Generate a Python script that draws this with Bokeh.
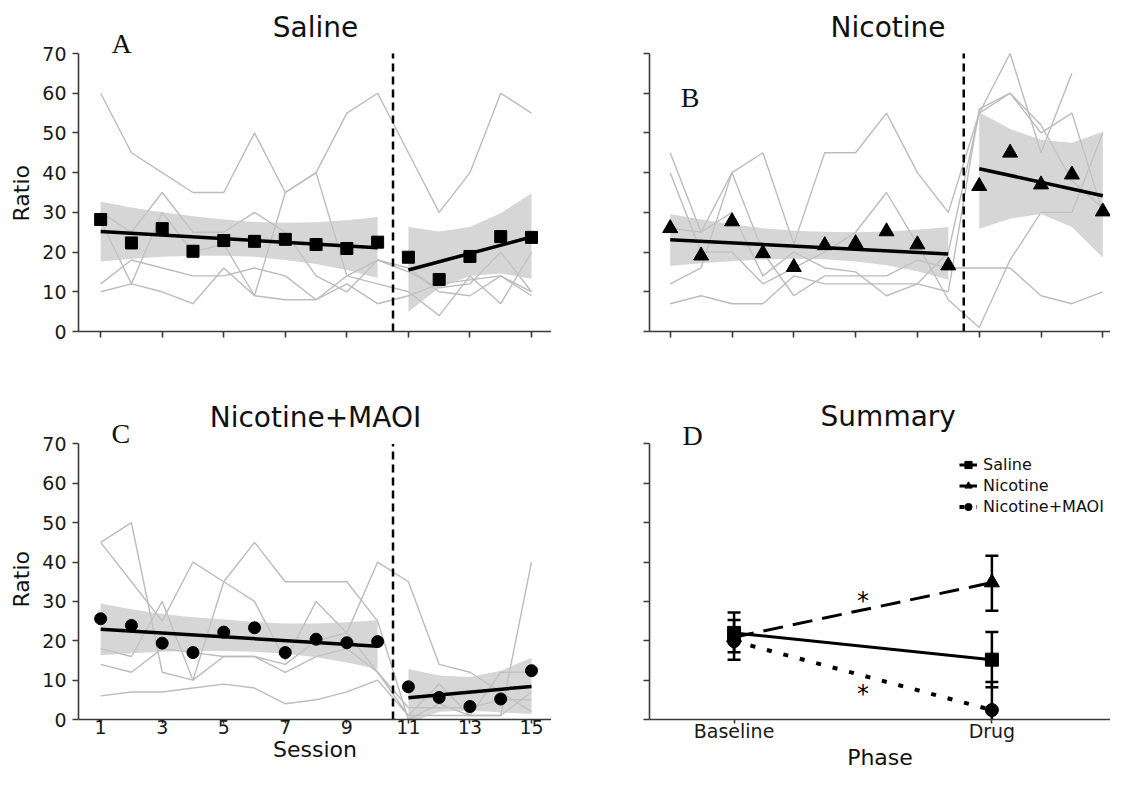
import numpy as np
from bokeh.plotting import figure
from bokeh.models import (Range1d, Label, Whisker, TeeHead, ColumnDataSource,
                          FixedTicker, Legend, LegendItem, Title)
from bokeh.layouts import column, row
from bokeh.embed import file_html
from bokeh.resources import INLINE
from bokeh.core.properties import value

# ---------------- data ----------------
sessions = [1, 2, 3, 4, 5, 6, 7, 8, 9, 10, 11, 12, 13, 14, 15]
base_sessions = sessions[:10]
drug_sessions = sessions[10:]
session_ticks = [1, 3, 5, 7, 9, 11, 13, 15]
ratio_ticks = [0, 10, 20, 30, 40, 50, 60, 70]
phase_split = 10.5

# Panel A - Saline: individual subjects
saline_s1 = [60, 45, 40, 35, 35, 50, 35, 40, 55, 60, 45, 30, 40, 60, 55]
saline_s2 = [30, 25, 35, 25, 25, 30, 25, 14, 10, 18, 15, 11, 12, 20, 10]
saline_s3 = [28, 12, 30, 20, 22, 9, 35, 40, 14, 12, 10, 4, 14, 7, 20]
saline_s4 = [12, 18, 16, 14, 14, 16, 14, 8, 12, 7, 9, 12, 13, 14, 9]
saline_s5 = [10, 12, 10, 7, 16, 9, 8, 8, 14, 18, 16, 10, 9, 14, 10]
saline_means = [28.2, 22.3, 25.9, 20.2, 22.9, 22.7, 23.2, 21.9, 20.9, 22.5,
                18.7, 13.1, 18.9, 23.9, 23.7]
saline_fit_base = [25.2, 21.1]
saline_fit_drug = [15.5, 23.8]
saline_band_lo_base = [17.6, 18.3, 18.8, 19.1, 19.1, 18.8, 18.0, 17.0, 15.5, 13.5]
saline_band_hi_base = [32.7, 31.2, 30.0, 29.0, 28.2, 27.6, 27.4, 27.5, 28.0, 28.8]
saline_band_lo_drug = [4.9, 11.0, 14.0, 14.6, 13.3]
saline_band_hi_drug = [26.3, 25.2, 26.3, 29.8, 34.8]

# Panel B - Nicotine
nic_s1 = [45, 25, 40, 45, 22, 45, 45, 55, 40, 30, 55, 70, 45, 65, np.nan]
nic_s2 = [40, 20, 20, 12, 16, 20, 25, 35, 22, 8, 1, 18, 30, 30, 50]
nic_s3 = [12, 16, 40, 20, 9, 14, 14, 14, 18, 16, 16, 16, 9, 7, 10]
nic_s4 = [7, 9, 7, 7, 14, 12, 12, 12, 12, 20, 55, 60, 50, 55, 30]
nic_s5 = [26, 25, 30, 14, 20, 16, 15, 9, 12, 10, 56, 60, 52, 38, 31]
nic_means = [26.0, 19.1, 27.7, 19.7, 16.2, 21.7, 22.2, 25.2, 21.9, 16.6,
             36.6, 45.0, 37.0, 39.5, 30.2]
nic_fit_base = [23.1, 19.5]
nic_fit_drug = [41.0, 34.2]
nic_band_lo_base = [16.5, 17.2, 17.7, 18.1, 18.3, 18.2, 17.6, 16.7, 15.2, 13.0]
nic_band_hi_base = [29.6, 28.2, 27.0, 26.0, 25.4, 25.1, 25.0, 25.2, 25.6, 26.3]
nic_band_lo_drug = [25.9, 28.4, 29.6, 26.3, 18.6]
nic_band_hi_drug = [55.2, 51.0, 48.3, 47.5, 50.3]

# Panel C - Nicotine+MAOI
maoi_s1 = [45, 50, 12, 10, 35, 30, 15, 30, 22, 12, 1, 9, 1, 12, 12]
maoi_s2 = [45, 35, 25, 40, 35, 45, 35, 35, 35, 25, 0, 4, 1, 1, 40]
maoi_s3 = [18, 16, 30, 10, 16, 16, 14, 20, 22, 40, 35, 14, 12, 7, 2]
maoi_s4 = [14, 12, 18, 17, 16, 16, 12, 16, 18, 12, 3, 3, 3, 5, 5]
maoi_s5 = [6, 7, 7, 8, 9, 8, 4, 5, 7, 10, 1, 1, 1, 1, 7]
maoi_means = [25.6, 23.9, 19.4, 17.0, 22.2, 23.3, 17.0, 20.4, 19.5, 19.8,
              8.3, 5.6, 3.3, 5.2, 12.4]
maoi_fit_base = [22.9, 18.6]
maoi_fit_drug = [5.5, 8.4]
maoi_band_lo_base = [16.3, 16.8, 17.2, 17.4, 17.4, 17.2, 16.7, 15.8, 14.5, 12.8]
maoi_band_hi_base = [29.5, 28.0, 26.8, 26.0, 25.4, 24.8, 24.4, 24.4, 24.7, 25.2]
maoi_band_lo_drug = [-1.0, 2.0, 2.3, 1.8, 1.4]
maoi_band_hi_drug = [12.8, 11.2, 10.8, 12.4, 15.7]

# Panel D - Summary
phase_x = [0, 1]
phase_labels = ["Baseline", "Drug"]
sum_saline = [22.0, 15.2]
sum_saline_lo = [15.2, 8.2]
sum_saline_hi = [27.2, 22.2]
sum_nic = [20.9, 34.8]
sum_nic_lo = [17.1, 27.6]
sum_nic_hi = [25.3, 41.6]
sum_maoi = [19.9, 2.4]
sum_maoi_lo = [17.5, 0.0]
sum_maoi_hi = [22.5, 9.5]
star_x = [0.5, 0.5]
star_y = [30.2, 6.5]
star_text = ["*", "*"]

# ---------------- styling ----------------
FONT = "DejaVu Sans"
SERIF = "Liberation Serif"
TXT = "#111111"
AXC = "#3a3a3a"
PX_PER_UNIT = 278 / 70.0   # vertical pixels per ratio unit (0..70 spans 278 px)


def style_axes(p, show_x, show_y):
    for ax in (p.xaxis[0], p.yaxis[0]):
        ax.axis_line_color = AXC
        ax.axis_line_width = 1.6
        ax.major_tick_line_color = AXC
        ax.major_tick_line_width = 1.6
        ax.major_tick_in = 0
        ax.major_tick_out = 6
        ax.minor_tick_line_color = None
        ax.major_label_text_font = FONT
        ax.major_label_text_font_size = "19px"
        ax.major_label_text_color = "#1a1a1a"
    p.yaxis[0].ticker = FixedTicker(ticks=ratio_ticks)
    p.yaxis[0].bounds = (ratio_ticks[0], ratio_ticks[-1])
    p.yaxis[0].major_label_standoff = 6
    if not show_x:
        p.xaxis[0].major_label_text_alpha = 0
    else:
        # short outward ticks drawn without reserving extra room below the frame
        p.xaxis[0].major_tick_out = 0
        p.xaxis[0].major_tick_in = -4
        p.xaxis[0].major_label_standoff = 0
    if not show_y:
        p.yaxis[0].major_label_text_alpha = 0


def add_label(p, x, y, text, size, font=FONT, align="center", baseline="middle"):
    p.add_layout(Label(x=x, y=y, text=text, text_font=font, text_font_size=size,
                       text_align=align, text_baseline=baseline, text_color=TXT))


def make_fig(width, height, left, bottom, xr):
    frame_h = height - bottom
    p = figure(width=width, height=height, x_range=Range1d(*xr),
               y_range=Range1d(0, frame_h / PX_PER_UNIT),
               output_backend="svg", toolbar_location=None,
               min_border_left=left, min_border_right=0,
               min_border_top=0, min_border_bottom=bottom)
    p.outline_line_color = None
    p.xgrid.visible = False
    p.ygrid.visible = False
    p.background_fill_color = "white"
    p.border_fill_color = "white"
    return p


def add_ratio_title(p, offset):
    p.add_layout(Title(text="Ratio", align="left", offset=offset, standoff=12,
                       text_font=FONT, text_font_size="22px", text_font_style="normal",
                       text_color=TXT), "left")


def style_xlabel(ax, text):
    ax.axis_label = text
    ax.axis_label_standoff = 0
    ax.axis_label_text_font = FONT
    ax.axis_label_text_font_size = "22px"
    ax.axis_label_text_font_style = "normal"
    ax.axis_label_text_color = TXT


def session_panel(p, subjects, means, fit_b, fit_d, blo_b, bhi_b, blo_d, bhi_d, marker, msize):
    for subj in subjects:
        p.line(sessions, np.array(subj, dtype=float), line_color="#bcbcbc", line_width=1.4)
    p.varea(x=base_sessions, y1=blo_b, y2=bhi_b, fill_color="#c4c4c4", fill_alpha=0.7)
    p.varea(x=drug_sessions, y1=blo_d, y2=bhi_d, fill_color="#c4c4c4", fill_alpha=0.7)
    p.segment(x0=[phase_split], y0=[ratio_ticks[0]], x1=[phase_split], y1=[ratio_ticks[-1]],
              line_color="black", line_width=2.5, line_dash="8 5")
    p.line([base_sessions[0], base_sessions[-1]], fit_b, line_color="black", line_width=3.5)
    p.line([drug_sessions[0], drug_sessions[-1]], fit_d, line_color="black", line_width=3.5)
    p.scatter(sessions, means, marker=marker, size=msize, fill_color="black", line_color="black")
    p.xaxis[0].ticker = FixedTicker(ticks=session_ticks)


# Panel A
pA = make_fig(551, 383, 71, 52, (0.28, 15.65))
session_panel(pA, [saline_s1, saline_s2, saline_s3, saline_s4, saline_s5], saline_means,
              saline_fit_base, saline_fit_drug, saline_band_lo_base, saline_band_hi_base,
              saline_band_lo_drug, saline_band_hi_drug, "square", 12)
style_axes(pA, False, True)
add_label(pA, 7.98, 76.6, "Saline", "28px")
add_label(pA, 1.35, 72.45, "A", "28px", font=SERIF, align="left", baseline="alphabetic")
add_ratio_title(pA, 110)

# Panel B
pB = make_fig(559, 383, 98, 52, (0.33, 15.249))
session_panel(pB, [nic_s1, nic_s2, nic_s3, nic_s4, nic_s5], nic_means,
              nic_fit_base, nic_fit_drug, nic_band_lo_base, nic_band_hi_base,
              nic_band_lo_drug, nic_band_hi_drug, "triangle", 15)
style_axes(pB, False, False)
add_label(pB, 8.05, 76.6, "Nicotine", "28px")
add_label(pB, 1.34, 59.0, "B", "28px", font=SERIF, align="left", baseline="alphabetic")

# Panel C
pC = make_fig(551, 389, 71, 50, (0.28, 15.65))
session_panel(pC, [maoi_s1, maoi_s2, maoi_s3, maoi_s4, maoi_s5], maoi_means,
              maoi_fit_base, maoi_fit_drug, maoi_band_lo_base, maoi_band_hi_base,
              maoi_band_lo_drug, maoi_band_hi_drug, "circle", 12)
style_axes(pC, True, True)
add_label(pC, 7.98, 76.8, "Nicotine+MAOI", "28px")
add_label(pC, 1.35, 72.6, "C", "28px", font=SERIF, align="left", baseline="alphabetic")
add_ratio_title(pC, 112)
style_xlabel(pC.xaxis[0], "Session")

# Panel D
pD = make_fig(559, 389, 98, 50, (-0.328, 1.460))
ls = pD.line(phase_x, sum_saline, line_color="black", line_width=3)
ln = pD.line(phase_x, sum_nic, line_color="black", line_width=3, line_dash="20 10")
lm = pD.line(phase_x, sum_maoi, line_color="black", line_width=4, line_dash="5 12")

for mid, lo, hi, has_low in ((sum_saline, sum_saline_lo, sum_saline_hi, True),
                             (sum_nic, sum_nic_lo, sum_nic_hi, True),
                             (sum_maoi, sum_maoi_lo, sum_maoi_hi, False)):
    src = ColumnDataSource(dict(x=phase_x, lo=lo, hi=hi))
    w = Whisker(source=src, base="x", lower="lo", upper="hi", dimension="height",
                line_color="black", line_width=2.5,
                upper_head=TeeHead(size=13, line_width=2.5, line_color="black"),
                lower_head=TeeHead(size=13, line_width=2.5, line_color="black") if has_low else None)
    pD.add_layout(w)

ms = pD.scatter(phase_x, sum_saline, marker="square", size=13, fill_color="black", line_color="black")
mn = pD.scatter(phase_x, sum_nic, marker="triangle", size=15, fill_color="black", line_color="black")
mm = pD.scatter(phase_x, sum_maoi, marker="circle", size=13, fill_color="black", line_color="black")

pD.text(x=star_x, y=star_y, text=star_text, text_font=value(FONT), text_font_size="24px",
        text_align="center", text_baseline="middle", text_color="black")

style_axes(pD, True, False)
pD.xaxis[0].ticker = FixedTicker(ticks=phase_x)
pD.xaxis[0].major_label_overrides = {phase_x[i]: phase_labels[i] for i in range(len(phase_x))}
style_xlabel(pD.xaxis[0], "Phase")

legend = Legend(items=[LegendItem(label="Saline", renderers=[ls, ms]),
                       LegendItem(label="Nicotine", renderers=[ln, mn]),
                       LegendItem(label="Nicotine+MAOI", renderers=[lm, mm])],
                location=(310, 202), glyph_width=18, glyph_height=21, label_height=21,
                label_standoff=6, spacing=0, padding=0, margin=0,
                border_line_color=None, background_fill_alpha=0,
                label_text_font=FONT, label_text_font_size="16px", label_text_color=TXT)
pD.add_layout(legend)

add_label(pD, 0.598, 77.1, "Summary", "28px")
add_label(pD, -0.2, 72.2, "D", "28px", font=SERIF, align="left", baseline="alphabetic")

layout = column(row(pA, pB, spacing=0), row(pC, pD, spacing=0), spacing=0)
open("out.html", "w").write(file_html(layout, INLINE))
